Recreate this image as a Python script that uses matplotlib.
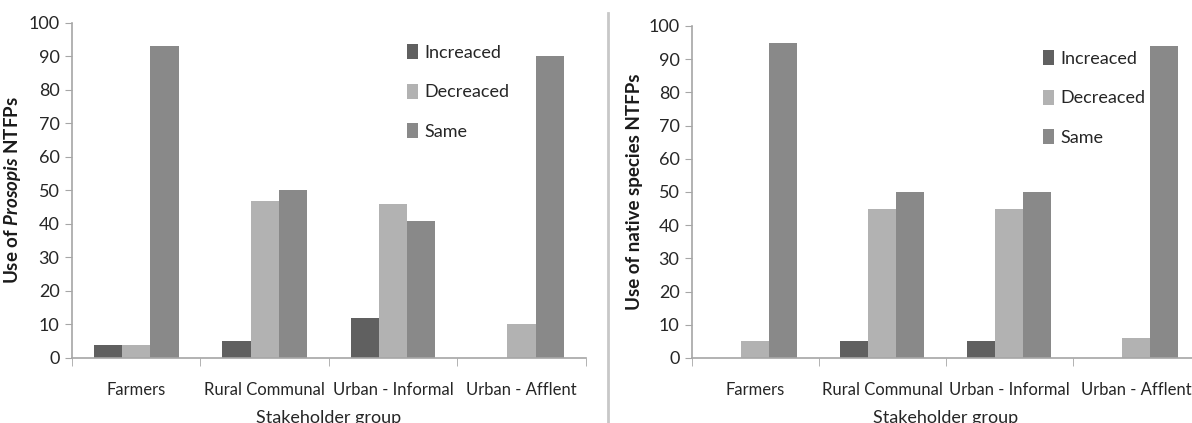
import matplotlib

matplotlib.use("Agg", force=True)
import matplotlib.pyplot as plt
import numpy as np
from matplotlib.lines import Line2D

plt.rcParams["font.family"] = ["Lato", "DejaVu Sans"]
plt.rcParams["mathtext.fontset"] = "custom"
plt.rcParams["mathtext.it"] = "Lato:italic:bold"
plt.rcParams["mathtext.rm"] = "Lato:bold"

groups = ["Farmers", "Rural Communal", "Urban - Informal", "Urban - Afflent"]
series = ["Increaced", "Decreaced", "Same"]

prosopis_increased = [4, 5, 12, 0]
prosopis_decreased = [4, 47, 46, 10]
prosopis_same = [93, 50, 41, 90]

native_increased = [0, 5, 5, 0]
native_decreased = [5, 45, 45, 6]
native_same = [95, 50, 50, 94]

colors = ["#606060", "#b2b2b2", "#898989"]
text_color = "#262626"
axis_color = "#a6a6a6"


def draw_panel(ax, values, ylabel, legend_anchor):
    x = np.arange(len(groups))
    width = 0.22
    for i, (name, vals, color) in enumerate(zip(series, values, colors)):
        ax.bar(x + (i - 1) * width, vals, width=width, color=color, label=name)

    ax.set_xlim(-0.5, len(groups) - 0.5)
    ax.set_ylim(0, 100)
    ax.set_yticks(np.arange(0, 101, 10))
    ax.set_xticks(x)
    ax.set_xticklabels(groups)
    ax.set_xticks(np.arange(-0.5, len(groups), 1.0), minor=True)
    ax.tick_params(axis="x", which="major", length=0, pad=17, labelsize=12, labelcolor=text_color)
    ax.tick_params(axis="x", which="minor", length=6, color=axis_color, direction="out")
    ax.tick_params(axis="y", length=5, color=axis_color, pad=4, labelsize=13, labelcolor=text_color)

    for side in ("top", "right"):
        ax.spines[side].set_visible(False)
    for side in ("left", "bottom"):
        ax.spines[side].set_color(axis_color)
        ax.spines[side].set_linewidth(1.2)

    ax.set_xlabel("Stakeholder group", fontsize=13, color=text_color, labelpad=9)
    ax.set_ylabel(ylabel, fontsize=13.5, fontweight="bold", color="#1a1a1a", labelpad=4)

    ax.legend(
        loc="upper left",
        bbox_to_anchor=legend_anchor,
        frameon=False,
        handlelength=0.6,
        handleheight=0.9,
        handletextpad=0.35,
        labelspacing=1.25,
        fontsize=13,
        labelcolor=text_color,
    )


fig = plt.figure(figsize=(11.92, 4.23), dpi=100)
ax_left = fig.add_axes([0.0604, 0.1537, 0.431, 0.792])
ax_right = fig.add_axes([0.5805, 0.1537, 0.426, 0.785])

draw_panel(
    ax_left,
    [prosopis_increased, prosopis_decreased, prosopis_same],
    r"Use of $\mathit{Prosopis}$ NTFPs",
    (0.62, 0.985),
)
draw_panel(
    ax_right,
    [native_increased, native_decreased, native_same],
    "Use of native species NTFPs",
    (0.66, 0.975),
)

# thin divider between the two panels
fig.add_artist(Line2D([0.51, 0.51], [0.0, 0.97], transform=fig.transFigure, color="#c8c8c8", linewidth=2))

fig.savefig("out.png", dpi=100)
